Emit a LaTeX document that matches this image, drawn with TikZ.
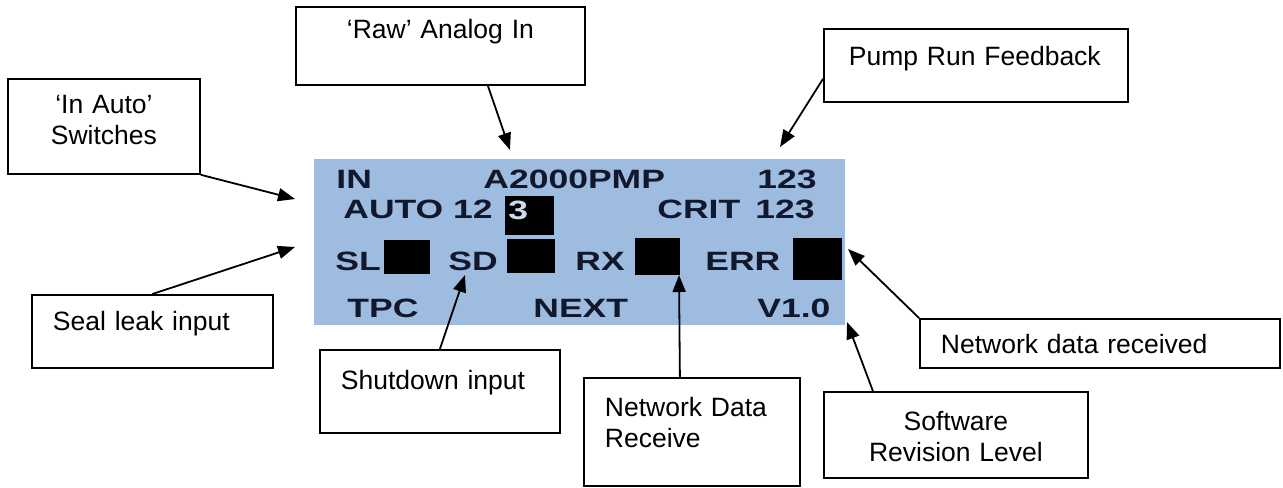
\documentclass[tikz,border=0pt]{standalone}
\usepackage{fontspec}
\setmainfont{Liberation Sans}
\newfontfamily\lcdfont[FakeStretch=1.34]{Liberation Sans}
\usepackage{tikz}
\usetikzlibrary{arrows.meta, positioning}
\definecolor{lcdblue}{RGB}{158, 187, 224}
\definecolor{lcdink}{RGB}{18, 24, 44}
\definecolor{lcdpale}{RGB}{205, 218, 238}
\tikzset{
    callout/.style = {rectangle, draw=black, line width=0.9pt, inner sep=0pt, anchor=north west, font=\fontsize{13.25}{15.25}\selectfont},
    lcdtext/.style = {text=lcdink, inner sep=0pt, anchor=base west, font=\lcdfont\bfseries\fontsize{13.25}{15}\selectfont},
    led/.style = {rectangle, fill=black, inner sep=0pt, anchor=north west},
    arrow/.style = {line width=0.9pt, -{Triangle[length=8.5pt, width=6.5pt]}}
}
\begin{document}
\begin{tikzpicture}[x=0.5pt, y=-0.5pt]
\useasboundingbox (0,0) rectangle (1283,487);

% display panel
\node (lcd) [fill=lcdblue, inner sep=0pt, minimum width=265.5pt, minimum height=83pt, anchor=north west] at (314,159) {};
\node (lin) [lcdtext] at (336,188) {IN};
\node (lmodel) [lcdtext] at (483,188) {A2000PMP};
\node (lid) [lcdtext] at (757,188) {123};
\node (lauto) [lcdtext] at (343,218) {AUTO 12};
\node (lcur) [led, minimum width=24.5pt, minimum height=19.5pt] at (505,196) {};
\node (lcurnum) [lcdtext, text=lcdpale] at (508,219) {3};
\node (lcrit) [lcdtext] at (657,218) {CRIT};
\node (lcritid) [lcdtext] at (755,218) {123};
\node (lsl) [lcdtext] at (335,270) {SL};
\node (lslbox) [led, minimum width=23pt, minimum height=17pt] at (384,240) {};
\node (lsd) [lcdtext] at (448,270) {SD};
\node (lsdbox) [led, minimum width=24pt, minimum height=17pt] at (507,239) {};
\node (lrx) [lcdtext] at (575,270) {RX};
\node (lrxbox) [led, minimum width=22.5pt, minimum height=18.5pt] at (635,238) {};
\node (lerr) [lcdtext] at (705,270) {ERR};
\node (lerrbox) [led, minimum width=24.5pt, minimum height=21pt] at (793,238) {};
\node (ltpc) [lcdtext] at (347,317) {TPC};
\node (lnext) [lcdtext] at (533,317) {NEXT};
\node (lver) [lcdtext] at (757,317) {V1.0};

% callouts
\node (ainauto) [callout, align=center, text width=96pt, text height=17.5pt, text depth=30pt] at (7,78) {‘In Auto’\\Switches};
\node (araw) [callout, align=center, text width=144.5pt, text height=15.75pt, text depth=23.25pt] at (295,6) {‘Raw’ Analog In};
\node (apump) [callout, align=left, inner xsep=12.5pt, text width=127pt, text height=18.5pt, text depth=18pt] at (823,28) {Pump Run Feedback};
\node (aseal) [callout, align=left, inner xsep=10.5pt, text width=99.5pt, text height=18pt, text depth=18.5pt] at (31,294) {Seal leak input};
\node (ashutdown) [callout, align=left, inner xsep=10.5pt, text width=99pt, text height=20pt, text depth=21.5pt] at (319,349) {Shutdown input};
\node (anetrx) [callout, align=left, inner xsep=10.5pt, text width=87pt, text height=19.5pt, text depth=34.5pt] at (583,377) {Network Data\\Receive};
\node (asoftware) [callout, align=center, text width=132pt, text height=19.5pt, text depth=23.5pt] at (823,391) {Software\\Revision Level};
\node (anetok) [callout, align=left, inner xsep=10.5pt, text width=159pt, text height=17.5pt, text depth=7pt] at (919,318) {Network data received};

% arrow tips on the panel
\coordinate (tauto) at (295,199);
\coordinate (tseal) at (295,247);
\coordinate (traw) at (510,150);
\coordinate (tpump) at (780,147);
\coordinate (tsd) at (465,275);
\coordinate (trx) at (679,275);
\coordinate (tver) at (847,322);
\coordinate (terr) at (848,249);

\draw [arrow] (ainauto.south east) -- (tauto);
\draw [arrow] (aseal.north) -- (tseal);
\draw [arrow] ([xshift=23.75pt]araw.south) -- (traw);
\draw [arrow] ([yshift=-6.75pt]apump.west) -- (tpump);
\draw [arrow] (ashutdown.north) -- (tsd);
\draw [arrow] ([xshift=-6pt]anetrx.north) -- (trx);
\draw [arrow] ([xshift=-41.5pt]asoftware.north) -- (tver);
\draw [arrow] (anetok.north west) -- (terr);
\end{tikzpicture}
\end{document}
